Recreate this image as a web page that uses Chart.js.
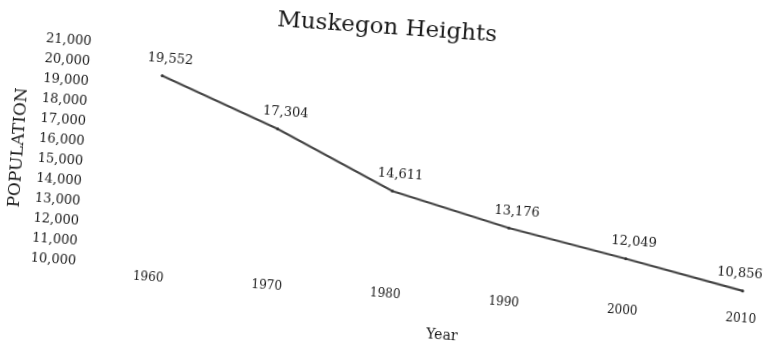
<!DOCTYPE html>
<html>
<head>
<meta charset="utf-8">
<script src="https://cdn.jsdelivr.net/npm/chart.js@4/dist/chart.umd.min.js"></script>
<style>
  html, body { margin: 0; padding: 0; background: #fff; overflow: hidden; }
  #wrap { width: 770px; height: 347px; }
  /* the printed page sits a little crooked */
  #chart { transform: rotate(4deg); transform-origin: 385px 173px; }
</style>
</head>
<body>
<div id="wrap"><canvas id="chart" width="770" height="347"></canvas></div>
<script>
// census counts
const years = ["1960", "1970", "1980", "1990", "2000", "2010"];
const population = [19552, 17304, 14611, 13176, 12049, 10856];
const yTicks = [10000, 11000, 12000, 13000, 14000, 15000, 16000, 17000, 18000, 19000, 20000, 21000];

const ink = "#1a1a1a";
const serif = "'DejaVu Serif', 'Liberation Serif', serif";

// number above each point
const valueLabels = {
  id: "valueLabels",
  afterDatasetsDraw(chart) {
    const ctx = chart.ctx;
    const meta = chart.getDatasetMeta(0);
    ctx.save();
    ctx.font = "13px " + serif;
    ctx.fillStyle = ink;
    ctx.textAlign = "center";
    ctx.textBaseline = "middle";
    meta.data.forEach((pt, i) => {
      const x = Math.min(pt.x + 7, chart.width - 24);
      ctx.fillText(population[i].toLocaleString("en-US"), x, pt.y - 17);
    });
    ctx.restore();
  },
};

new Chart(document.getElementById("chart"), {
  type: "line",
  data: {
    labels: years,
    datasets: [
      {
        data: population,
        borderColor: "#444",
        borderWidth: 2.2,
        pointRadius: 1.5,
        pointBackgroundColor: "#333",
        pointBorderWidth: 0,
        tension: 0,
      },
    ],
  },
  options: {
    responsive: false,
    animation: false,
    layout: { padding: { left: 4, right: 20, top: 0, bottom: 3 } },
    plugins: {
      legend: { display: false },
      tooltip: { enabled: false },
      title: {
        display: true,
        text: "Muskegon Heights",
        color: ink,
        font: { family: serif, size: 23, weight: "normal" },
        padding: { top: 14, bottom: 21 },
      },
    },
    scales: {
      x: {
        offset: false,
        grid: { display: false, drawTicks: false },
        border: { display: false },
        afterFit(scale) {
          scale.paddingLeft = 0;
          scale.paddingRight = 0;
        },
        ticks: { color: ink, font: { family: serif, size: 12 }, padding: 3, maxRotation: 0 },
        title: {
          display: true,
          text: "Year",
          color: ink,
          font: { family: serif, size: 14 },
          padding: { top: 19, bottom: 4 },
        },
      },
      y: {
        min: 9950,
        max: 21000,
        grid: { display: false, drawTicks: false },
        border: { display: false },
        afterBuildTicks(scale) {
          scale.ticks = yTicks.map((v) => ({ value: v }));
        },
        afterFit(scale) {
          scale.width = 152;
          scale.paddingTop = 0;
          scale.paddingBottom = 0;
        },
        ticks: {
          color: ink,
          font: { family: serif, size: 13 },
          padding: 73,
          callback: (v) => v.toLocaleString("en-US"),
        },
        title: {
          display: true,
          text: "POPULATION",
          color: ink,
          font: { family: serif, size: 17 },
          padding: 3,
        },
      },
    },
  },
  plugins: [valueLabels],
});
</script>
</body>
</html>
